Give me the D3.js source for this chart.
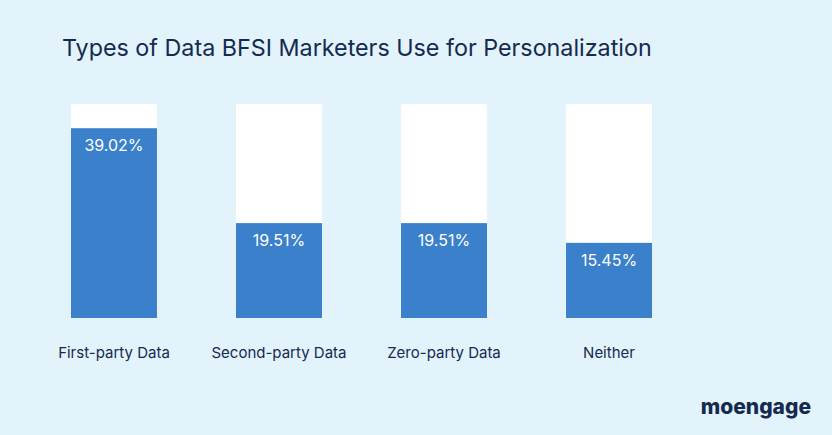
<!DOCTYPE html>
<html><head><meta charset="utf-8">
<script src="https://cdn.jsdelivr.net/npm/d3@7"></script>
<style>body{margin:0;background:#e3f3fb;}</style>
</head><body><div id="chart"></div>
<script>
var categories = ["First-party Data", "Second-party Data", "Zero-party Data", "Neither"];
var values = [39.02, 19.51, 19.51, 15.45];
var labels = ["39.02%", "19.51%", "19.51%", "15.45%"];

var width = 832, height = 435;

var svg = d3.select("#chart").append("svg")
    .attr("width", width)
    .attr("height", height);

svg.append("rect").attr("width", width).attr("height", height).attr("fill", "#e3f3fb");

svg.append("text")
    .attr("x", 62).attr("y", 56)
    .attr("fill", "#142a4f")
    .style("font-family", "Inter, sans-serif")
    .style("font-size", "23.3px")
    .text("Types of Data BFSI Marketers Use for Personalization");

var x = d3.scaleBand().domain(categories).range([71, 652]).paddingInner(0.479).paddingOuter(0);
var y = d3.scaleLinear().domain([0, 44]).range([318, 104]);

var g = svg.append("g");

// white column behind each bar
g.selectAll("rect.bg").data(categories).enter().append("rect")
    .attr("class", "bg")
    .attr("x", d => x(d)).attr("y", y(44))
    .attr("width", x.bandwidth()).attr("height", y(0) - y(44))
    .attr("fill", "#ffffff");

g.selectAll("rect.bar").data(values).enter().append("rect")
    .attr("class", "bar")
    .attr("x", (d, i) => x(categories[i])).attr("y", d => y(d))
    .attr("width", x.bandwidth()).attr("height", d => y(0) - y(d))
    .attr("fill", "#3a80ca");

g.selectAll("text.val").data(values).enter().append("text")
    .attr("x", (d, i) => x(categories[i]) + x.bandwidth() / 2)
    .attr("y", d => y(d) + 23)
    .attr("text-anchor", "middle")
    .attr("fill", "#ffffff")
    .style("font-family", "Inter, sans-serif")
    .style("font-size", "16px")
    .text((d, i) => labels[i]);

g.selectAll("text.cat").data(categories).enter().append("text")
    .attr("x", d => x(d) + x.bandwidth() / 2)
    .attr("y", 358)
    .attr("text-anchor", "middle")
    .attr("fill", "#142a4f")
    .style("font-family", "Inter, sans-serif")
    .style("font-size", "15px")
    .text(d => d);

svg.append("text")
    .attr("x", 811).attr("y", 414)
    .attr("text-anchor", "end")
    .attr("fill", "#142a4f")
    .style("font-family", "Inter, sans-serif")
    .style("font-weight", "800")
    .style("font-size", "21px")
    .text("moengage");
</script>
</body></html>
